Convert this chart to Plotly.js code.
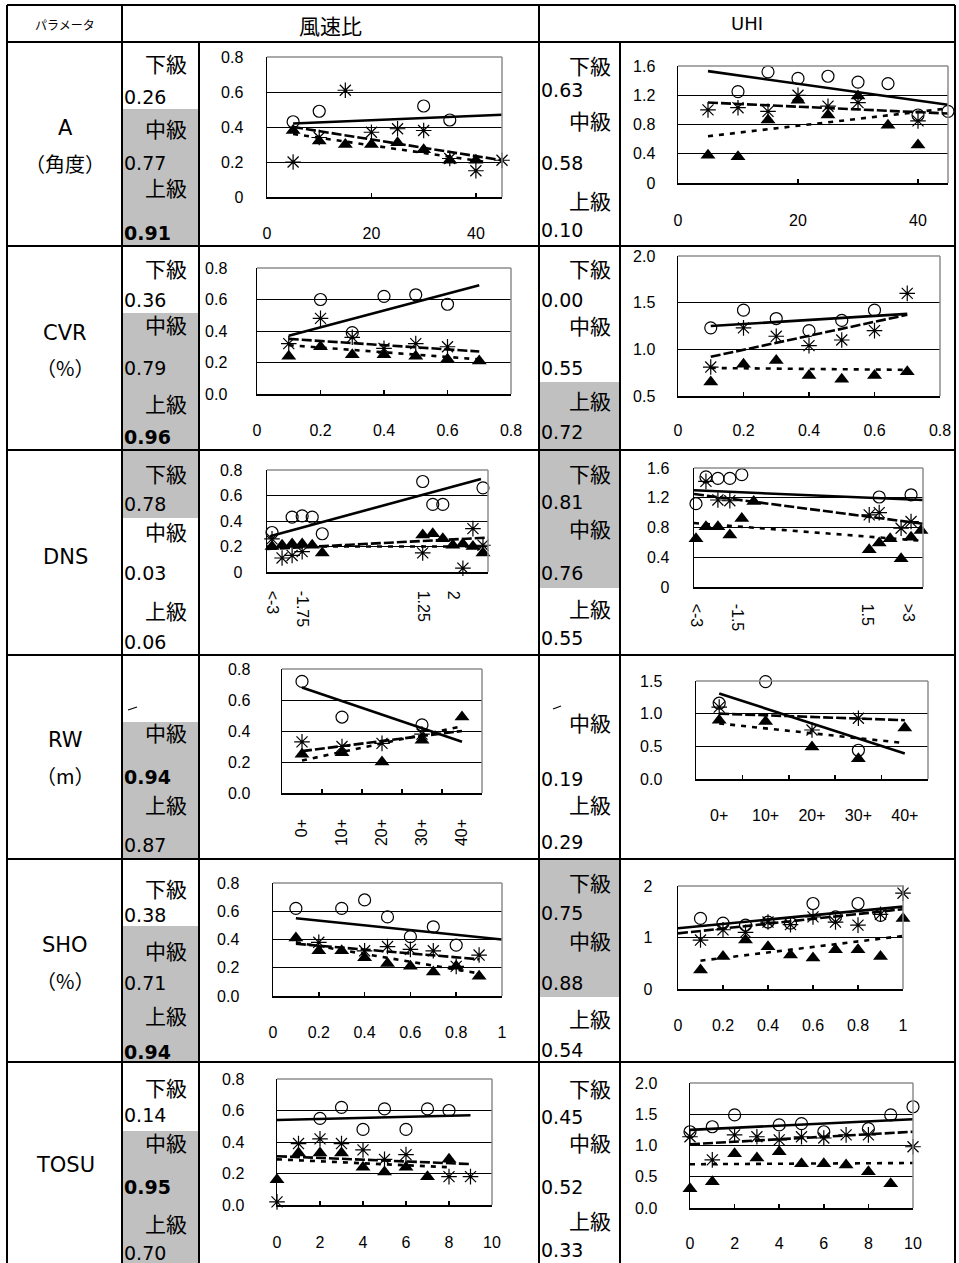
<!DOCTYPE html>
<html><head><meta charset="utf-8">
<script src="https://cdn.plot.ly/plotly-3.0.1.min.js"></script>
<style>html,body{margin:0;padding:0;background:#fff}#chart{width:959px;height:1263px}</style>
</head><body><div id="chart"></div>
<script>
// ================= DATA =================
const rowNames = ['A','CVR','DNS','RW','SHO','TOSU'];
const rowUnits = ['（角度）','（%）','','（m）','（%）',''];
const classNames = ['下級','中級','上級'];
const windScores = [['0.26','0.77','0.91'],['0.36','0.79','0.96'],['0.78','0.03','0.06'],[null,'0.94','0.87'],['0.38','0.71','0.94'],['0.14','0.95','0.70']];
const uhiScores  = [['0.63','0.58','0.10'],['0.00','0.55','0.72'],['0.81','0.76','0.55'],[null,'0.19','0.29'],['0.75','0.88','0.54'],['0.45','0.52','0.33']];
const windBold = [[0,0,1],[0,0,1],[0,0,0],[0,1,0],[0,0,1],[0,1,0]];

// A (角度)
const A_x = [5,10,15,20,25,30,35,40,45];
const A_wind_low  = [0.43,0.49,null,null,null,0.52,0.44,null,null];
const A_wind_mid  = [0.20,0.34,0.61,0.37,0.39,0.38,0.22,0.15,0.21];
const A_wind_high = [0.38,0.32,0.30,0.30,0.31,0.27,0.21,0.21,null];
const A_wind_trend_low  = [[5,45],[0.42,0.47]];
const A_wind_trend_mid  = [[5,45],[0.40,0.21]];
const A_wind_trend_high = [[5,42],[0.36,0.20]];
const A_uhi_low  = [null,1.25,1.52,1.43,1.46,1.38,1.36,0.93,0.98];
const A_uhi_mid  = [1.00,1.03,0.98,1.20,1.05,1.10,null,0.85,null];
const A_uhi_high = [0.38,0.36,0.86,1.13,0.93,1.19,0.79,0.52,null];
const A_uhi_trend_low  = [[5,45],[1.53,1.07]];
const A_uhi_trend_mid  = [[5,45],[1.10,0.95]];
const A_uhi_trend_high = [[5,45],[0.64,1.02]];

// CVR (%)
const CVR_x = [0.1,0.2,0.3,0.4,0.5,0.6,0.7];
const CVR_wind_low  = [null,0.60,0.39,0.62,0.63,0.57,null];
const CVR_wind_mid  = [0.32,0.48,0.36,0.29,0.32,0.30,null];
const CVR_wind_high = [0.24,0.30,0.25,0.25,0.24,0.22,0.21];
const CVR_wind_trend_low  = [[0.1,0.7],[0.37,0.69]];
const CVR_wind_trend_mid  = [[0.1,0.7],[0.35,0.27]];
const CVR_wind_trend_high = [[0.1,0.7],[0.31,0.22]];
const CVR_uhi_low  = [1.23,1.42,1.33,1.20,1.31,1.42,null];
const CVR_uhi_mid  = [0.81,1.23,1.14,1.04,1.10,1.20,1.60];
const CVR_uhi_high = [0.65,0.84,0.88,0.72,0.68,0.72,0.76];
const CVR_uhi_trend_low  = [[0.1,0.7],[1.25,1.38]];
const CVR_uhi_trend_mid  = [[0.1,0.7],[0.92,1.37]];
const CVR_uhi_trend_high = [[0.1,0.7],[0.80,0.78]];

// DNS
const DNS_wind_x = [0.5,1.5,2.5,3.5,4.5,5.5,15.5,16.5,17.5,18.5,19.5,20.5,21.5];
const DNS_wind_ticks = [0.5,3.5,15.5,18.5];
const DNS_wind_labels = ['&lt;-3','-1.75','1.25','2'];
const DNS_wind_low  = [0.31,null,0.43,0.44,0.43,0.30,0.71,0.53,0.53,null,null,null,0.66];
const DNS_wind_mid  = [0.26,0.11,0.13,0.16,null,null,0.15,null,null,null,0.03,0.34,0.21];
const DNS_wind_high = [0.20,0.21,0.22,0.22,0.21,0.15,0.29,0.30,0.26,0.21,0.22,0.20,0.15];
const DNS_wind_trend_low  = [[0.3,21.3],[0.28,0.73]];
const DNS_wind_trend_mid  = [[0,22],[0.18,0.27]];
const DNS_wind_trend_high = [[0,22],[0.20,0.20]];
const DNS_uhi_x = [0.2,1.2,2.4,3.6,4.8,6.0,17.6,18.6,19.7,20.8,21.8,22.8];
const DNS_uhi_ticks = [0.2,4.3,17.4,21.5];
const DNS_uhi_labels = ['&lt;-3','-1.5','1.5','&gt;3'];
const DNS_uhi_low  = [1.12,1.48,1.46,1.46,1.51,null,null,1.21,null,null,1.24,null];
const DNS_uhi_mid  = [null,1.42,1.17,1.16,null,null,0.97,1.00,null,0.79,0.88,null];
const DNS_uhi_high = [0.65,0.81,0.81,0.70,0.92,1.15,0.50,0.59,0.65,0.38,0.67,0.76];
const DNS_uhi_trend_low  = [[0,23],[1.30,1.17]];
const DNS_uhi_trend_mid  = [[0,23],[1.25,0.85]];
const DNS_uhi_trend_high = [[0,23],[0.86,0.62]];

// RW (m)
const RW_x = ['0+','10+','20+','30+','40+'];
const RW_wind_low  = [0.72,0.49,null,0.44,null];
const RW_wind_mid  = [0.33,0.30,0.32,0.38,null];
const RW_wind_high = [0.25,0.26,0.20,0.34,0.49];
const RW_wind_trend_low  = [['0+','40+'],[0.68,0.33]];
const RW_wind_trend_mid  = [['0+','40+'],[0.27,0.40]];
const RW_wind_trend_high = [['0+','40+'],[0.21,0.43]];
const RW_uhi_low  = [1.16,1.49,null,0.44,null];
const RW_uhi_mid  = [1.10,null,0.75,0.93,null];
const RW_uhi_high = [0.90,0.88,0.49,0.31,0.78];
const RW_uhi_trend_low  = [['0+','40+'],[1.31,0.39]];
const RW_uhi_trend_mid  = [['0+','40+'],[1.00,0.90]];
const RW_uhi_trend_high = [['0+','40+'],[0.85,0.55]];

// SHO (%)
const SHO_wind_x = [0.1,0.2,0.3,0.4,0.5,0.6,0.7,0.8,0.9];
const SHO_wind_low  = [0.62,null,0.62,0.68,0.56,0.42,0.49,0.36,null];
const SHO_wind_mid  = [null,0.38,null,0.32,0.35,0.33,0.32,0.21,0.29];
const SHO_wind_high = [0.41,0.32,0.32,0.27,0.23,0.21,0.17,0.21,0.14];
const SHO_wind_trend_low  = [[0.1,1.0],[0.55,0.40]];
const SHO_wind_trend_mid  = [[0.1,0.9],[0.37,0.26]];
const SHO_wind_trend_high = [[0.1,0.9],[0.38,0.16]];
const SHO_uhi_x = [0.1,0.2,0.3,0.4,0.5,0.6,0.7,0.8,0.9,1.0];
const SHO_uhi_low  = [1.37,1.28,1.24,1.30,1.28,1.66,1.40,1.66,1.43,null];
const SHO_uhi_mid  = [0.95,1.15,1.10,1.30,1.25,1.40,1.30,1.24,1.45,1.86];
const SHO_uhi_high = [0.37,0.63,0.95,0.82,0.66,0.60,0.76,0.76,0.63,1.37];
const SHO_uhi_trend_low  = [[0,1],[1.18,1.60]];
const SHO_uhi_trend_mid  = [[0,1],[1.08,1.55]];
const SHO_uhi_trend_high = [[0.1,1],[0.55,1.03]];

// TOSU
const TOSU_wind_x = [0,1,2,3,4,5,6,7,8,9];
const TOSU_wind_low  = [null,null,0.55,0.62,0.48,0.61,0.48,0.61,0.60,null];
const TOSU_wind_mid  = [0.02,0.39,0.42,0.39,0.35,0.29,0.32,null,0.18,0.18];
const TOSU_wind_high = [0.16,0.33,0.33,0.33,0.24,0.21,0.24,0.18,0.29,null];
const TOSU_wind_trend_low  = [[0,9],[0.54,0.57]];
const TOSU_wind_trend_mid  = [[0,9],[0.31,0.26]];
const TOSU_wind_trend_high = [[0,8],[0.29,0.24]];
const TOSU_uhi_x = [0,1,2,3,4,5,6,7,8,9,10];
const TOSU_uhi_low  = [1.22,1.30,1.49,null,1.33,1.35,1.22,null,1.27,1.49,1.62];
const TOSU_uhi_mid  = [1.14,0.77,1.17,1.14,1.09,1.14,1.12,1.17,1.17,null,0.98];
const TOSU_uhi_high = [0.31,0.42,0.87,0.80,0.90,0.71,0.71,0.69,0.58,0.39,null];
const TOSU_uhi_trend_low  = [[0,10],[1.25,1.42]];
const TOSU_uhi_trend_mid  = [[0,10],[1.02,1.22]];
const TOSU_uhi_trend_high = [[0,10],[0.70,0.72]];

// ================= LAYOUT HELPERS =================
const W = 959, H = 1263;
const PX = v => v / W, PY = v => 1 - v / H;
const JP = 'Noto Sans CJK JP';
const NUM = 'Liberation Sans, Arial, sans-serif';

const charts = [
  {x:A_x, s:[A_wind_low,A_wind_mid,A_wind_high], t:[A_wind_trend_low,A_wind_trend_mid,A_wind_trend_high],
   box:[267,502,57,197], xr:[0,45], xd:20, yr:[0,0.8], yd:0.2, yf:'', xs:21, ys:19},
  {x:A_x, s:[A_uhi_low,A_uhi_mid,A_uhi_high], t:[A_uhi_trend_low,A_uhi_trend_mid,A_uhi_trend_high],
   box:[678,948,66,183], xr:[0,45], xd:20, yr:[0,1.6], yd:0.4, yf:'', xs:22, ys:18},
  {x:CVR_x, s:[CVR_wind_low,CVR_wind_mid,CVR_wind_high], t:[CVR_wind_trend_low,CVR_wind_trend_mid,CVR_wind_trend_high],
   box:[257,511,268,394], xr:[0,0.8], xd:0.2, yr:[0,0.8], yd:0.2, yf:'.1f', xs:21, ys:25},
  {x:CVR_x, s:[CVR_uhi_low,CVR_uhi_mid,CVR_uhi_high], t:[CVR_uhi_trend_low,CVR_uhi_trend_mid,CVR_uhi_trend_high],
   box:[678,940,256,396], xr:[0,0.8], xd:0.2, yr:[0.5,2.0], yd:0.5, yf:'.1f', xs:19, ys:18},
  {x:DNS_wind_x, s:[DNS_wind_low,DNS_wind_mid,DNS_wind_high], t:[DNS_wind_trend_low,DNS_wind_trend_mid,DNS_wind_trend_high],
   box:[267,488,470,572], xr:[0,22], tv:DNS_wind_ticks, tt:DNS_wind_labels, ang:90, yr:[0,0.8], yd:0.2, yf:'', xs:14, ys:20},
  {x:DNS_uhi_x, s:[DNS_uhi_low,DNS_uhi_mid,DNS_uhi_high], t:[DNS_uhi_trend_low,DNS_uhi_trend_mid,DNS_uhi_trend_high],
   box:[694,923,468,587], xr:[0,23], tv:DNS_uhi_ticks, tt:DNS_uhi_labels, ang:90, yr:[0,1.6], yd:0.4, yf:'', xs:12, ys:20},
  {x:RW_x, s:[RW_wind_low,RW_wind_mid,RW_wind_high], t:[RW_wind_trend_low,RW_wind_trend_mid,RW_wind_trend_high],
   box:[282,482,669,793], cat:true, ang:-90, yr:[0,0.8], yd:0.2, yf:'.1f', xs:18, ys:27},
  {x:RW_x, s:[RW_uhi_low,RW_uhi_mid,RW_uhi_high], t:[RW_uhi_trend_low,RW_uhi_trend_mid,RW_uhi_trend_high],
   box:[696,928,681,779], cat:true, yr:[0,1.5], yd:0.5, yf:'.1f', xs:21, ys:29},
  {x:SHO_wind_x, s:[SHO_wind_low,SHO_wind_mid,SHO_wind_high], t:[SHO_wind_trend_low,SHO_wind_trend_mid,SHO_wind_trend_high],
   box:[273,502,883,996], xr:[0,1], xd:0.2, yr:[0,0.8], yd:0.2, yf:'.1f', xs:21, ys:29},
  {x:SHO_uhi_x, s:[SHO_uhi_low,SHO_uhi_mid,SHO_uhi_high], t:[SHO_uhi_trend_low,SHO_uhi_trend_mid,SHO_uhi_trend_high],
   box:[678,903,886,989], xr:[0,1], xd:0.2, yr:[0,2], yd:1, yf:'', xs:21, ys:21},
  {x:TOSU_wind_x, s:[TOSU_wind_low,TOSU_wind_mid,TOSU_wind_high], t:[TOSU_wind_trend_low,TOSU_wind_trend_mid,TOSU_wind_trend_high],
   box:[277,492,1079,1205], xr:[0,10], xd:2, yr:[0,0.8], yd:0.2, yf:'.1f', xs:22, ys:28},
  {x:TOSU_uhi_x, s:[TOSU_uhi_low,TOSU_uhi_mid,TOSU_uhi_high], t:[TOSU_uhi_trend_low,TOSU_uhi_trend_mid,TOSU_uhi_trend_high],
   box:[690,913,1083,1208], xr:[0,10], xd:2, yr:[0,2], yd:0.5, yf:'.1f', xs:20, ys:28}
];

const markerDefs = [
  {symbol:'circle-open', size:12, color:'#000', line:{color:'#000', width:1.2}},
  {symbol:'asterisk-open', size:13, color:'#000', line:{color:'#000', width:1.2}},
  {symbol:'triangle-up', size:13, color:'#000', line:{color:'#000', width:0}}
];
const trendDefs = [
  {color:'#000', width:2.6, dash:'solid'},
  {color:'#000', width:2.6, dash:'10px,3px'},
  {color:'#000', width:2.6, dash:'5px,6px'}
];

const traces = [];
const layout = {
  width: W, height: H, margin:{l:0,r:0,t:0,b:0},
  paper_bgcolor:'#fff', plot_bgcolor:'#fff', showlegend:false,
  font:{family:NUM, color:'#000'},
  shapes:[], annotations:[]
};

charts.forEach((c, i) => {
  const n = i + 1;
  const xa = n === 1 ? 'x' : 'x' + n, ya = n === 1 ? 'y' : 'y' + n;
  const xk = n === 1 ? 'xaxis' : 'xaxis' + n, yk = n === 1 ? 'yaxis' : 'yaxis' + n;
  const [l, r, t, b] = c.box;
  c.t.forEach((tr, k) => traces.push({type:'scatter', mode:'lines', x:tr[0], y:tr[1], xaxis:xa, yaxis:ya,
    line:trendDefs[k], hoverinfo:'skip'}));
  c.s.forEach((ys, k) => traces.push({type:'scatter', mode:'markers', x:c.x, y:ys, xaxis:xa, yaxis:ya,
    marker:markerDefs[k], cliponaxis:false}));
  const xaxis = {domain:[PX(l), PX(r)], anchor:ya, showline:true, linecolor:'#000', linewidth:1.5,
    showgrid:false, zeroline:false, ticks:'inside', ticklen:4, tickcolor:'#000', tickwidth:1.5,
    tickfont:{family:NUM, size:16, color:'#000'}, ticklabelstandoff:c.xs, fixedrange:true};
  if (c.cat) {
    Object.assign(xaxis, {type:'category', categoryarray:RW_x, range:[-0.5,4.5], tickson:'boundaries'});
  } else if (c.tv) {
    Object.assign(xaxis, {range:c.xr, tickmode:'array', tickvals:c.tv, ticktext:c.tt, ticks:''});
  } else {
    Object.assign(xaxis, {range:c.xr, tickmode:'linear', tick0:0, dtick:c.xd});
  }
  if (c.ang !== undefined) xaxis.tickangle = c.ang;
  layout[xk] = xaxis;
  layout[yk] = {domain:[PY(b), PY(t)], anchor:xa, range:c.yr, tickmode:'linear', tick0:0, dtick:c.yd,
    tickformat:c.yf, showline:true, linecolor:'#000', linewidth:1.5, showgrid:true, gridcolor:'#000', gridwidth:1,
    zeroline:false, ticks:'', tickfont:{family:NUM, size:16, color:'#000'}, ticklabelstandoff:c.ys, fixedrange:true};
  layout.shapes.push({type:'line', xref:xa+' domain', yref:ya+' domain', x0:0, x1:1, y0:1, y1:1, line:{color:'#8c8c8c', width:1.5}, layer:'above'});
  layout.shapes.push({type:'line', xref:xa+' domain', yref:ya+' domain', x0:1, x1:1, y0:0, y1:1, line:{color:'#8c8c8c', width:1.5}, layer:'above'});
});

// ---- table: grey cells ----
const greyCells = [
  [122,199,109,246],
  [122,199,313,450],[539,620,382,450],
  [122,199,450,518],[539,620,450,588],
  [122,199,722,859],
  [122,199,926,1062],[539,620,859,997],
  [122,199,1131,1263]
];
greyCells.forEach(g => layout.shapes.push({type:'rect', xref:'paper', yref:'paper',
  x0:PX(g[0]), x1:PX(g[1]), y0:PY(g[3]), y1:PY(g[2]), fillcolor:'#c0c0c0', line:{width:0}, layer:'below'}));

// ---- table: lines ----
const hLines = [5,42,246,450,655,859,1062];
hLines.forEach(y => layout.shapes.push({type:'line', xref:'paper', yref:'paper', x0:PX(7), x1:PX(955), y0:PY(y), y1:PY(y), line:{color:'#000', width:2}}));
const vLines = [[7,5,1263],[122,5,1263],[199,42,1263],[539,5,1263],[620,42,1263],[955,5,1263]];
vLines.forEach(v => layout.shapes.push({type:'line', xref:'paper', yref:'paper', x0:PX(v[0]), x1:PX(v[0]), y0:PY(v[1]), y1:PY(v[2]), line:{color:'#000', width:2}}));
[[128,137,710,707],[553,561,709,706]].forEach(s => layout.shapes.push({type:'line', xref:'paper', yref:'paper',
  x0:PX(s[0]), x1:PX(s[1]), y0:PY(s[2]), y1:PY(s[3]), line:{color:'#000', width:1.3}}));

// ---- text ----
function ann(text, x, y, opt) {
  layout.annotations.push(Object.assign({text:text, x:PX(x), y:PY(y), xref:'paper', yref:'paper',
    showarrow:false, xanchor:'center', yanchor:'middle', borderpad:0, font:{family:NUM, size:18, color:'#000'}}, opt || {}));
}
ann('パラメータ', 65, 25, {font:{family:JP, size:12, color:'#000'}});
ann('風速比', 330, 25, {font:{family:JP, size:21, color:'#000'}});
ann('UHI', 747, 24, {font:{family:'DejaVu Sans', size:18, color:'#000'}});

const nameY = [[128,163],[333,368],[557,null],[740,775],[945,980],[1165,null]];
rowNames.forEach((nm, i) => {
  ann(nm, 65, nameY[i][0], {font:{family:'DejaVu Sans', size:21, color:'#000'}});
  if (rowUnits[i]) ann(rowUnits[i], 65, nameY[i][1], {font:{family:JP, size:20, color:'#000'}});
});

const leftPos = [[63,97,128,163,187,233],[268,300,324,368,403,437],[473,504,531,573,610,642],
  [null,null,732,777,804,845],[888,915,950,983,1015,1052],[1087,1115,1142,1187,1223,1253]];
const rightPos = [[65,90,120,163,200,230],[268,300,325,368,400,432],[473,502,528,573,608,638],
  [null,null,722,779,804,842],[882,913,940,983,1018,1050],[1088,1117,1142,1187,1220,1250]];
function labelCol(scores, pos, kx, vx, bold) {
  scores.forEach((row, i) => {
    for (let k = 0; k < 3; k++) {
      const ky = pos[i][2*k], vy = pos[i][2*k+1];
      if (ky !== null) ann(classNames[k], kx, ky, {xanchor:'right', font:{family:JP, size:21, color:'#000'}});
      if (row[k] !== null) {
        const b = bold && bold[i][k];
        ann(b ? '<b>' + row[k] + '</b>' : row[k], vx, vy, {xanchor:'left',
          font:{family:'DejaVu Sans', size:19, color:'#000'}});
      }
    }
  });
}
labelCol(windScores, leftPos, 188, 123, windBold);
labelCol(uhiScores, rightPos, 612, 540, null);

Plotly.newPlot('chart', traces, layout, {staticPlot:true});
</script></body></html>
